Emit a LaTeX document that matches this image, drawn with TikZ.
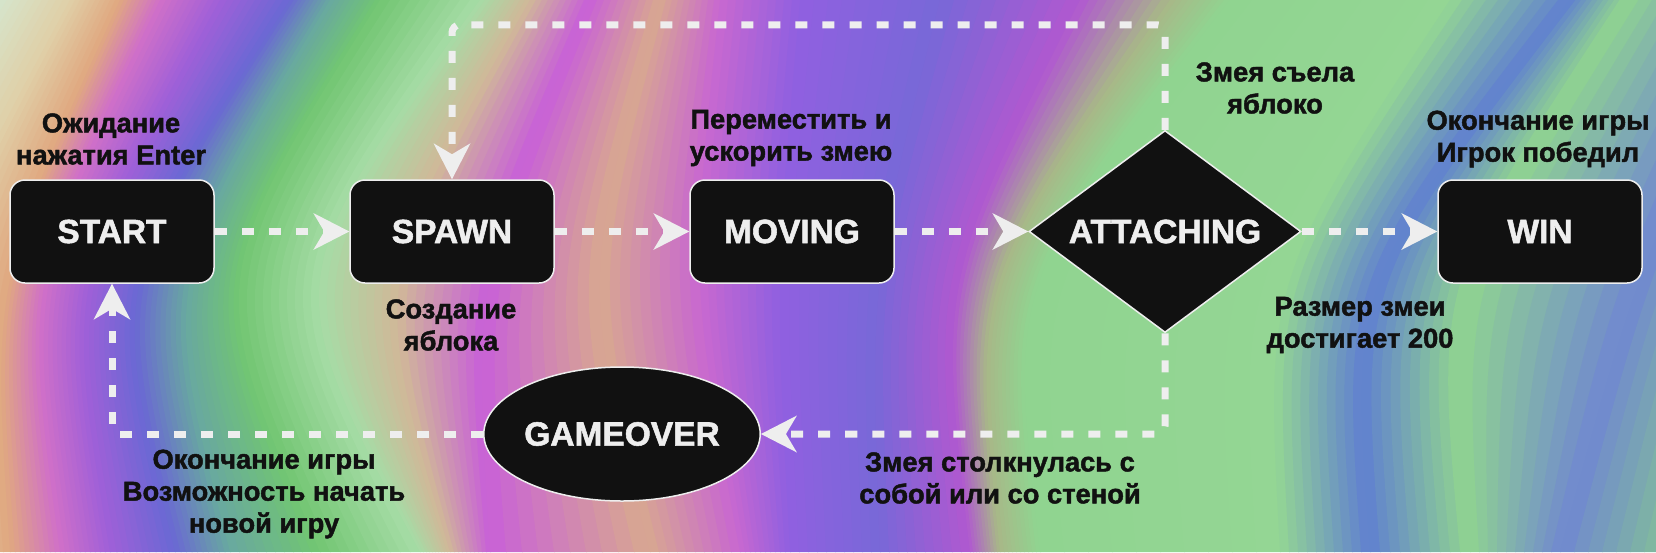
\documentclass[tikz,border=0pt]{standalone}
\usepackage{fontspec}
\setmainfont{Liberation Sans}[BoldFeatures={FakeBold=1.6}]
\usetikzlibrary{shapes.geometric,arrows.meta}

\definecolor{nodebg}{HTML}{111111}
\definecolor{nodetxt}{HTML}{EEEEEE}
\definecolor{flowclr}{HTML}{EEEEEE}
\definecolor{lbltxt}{HTML}{111111}
% background streak colours
\definecolor{bgA}{HTML}{D5E5CC}
\definecolor{bgB}{HTML}{E0D0A8}
\definecolor{bgC}{HTML}{E0A880}
\definecolor{bgD}{HTML}{D070C8}
\definecolor{bgE}{HTML}{A060D8}
\definecolor{bgF}{HTML}{6A68D4}
\definecolor{bgG}{HTML}{68A8A0}
\definecolor{bgH}{HTML}{72C672}
\definecolor{bgI}{HTML}{A6DCA6}
\definecolor{bgJ}{HTML}{D0B898}
\definecolor{bgK}{HTML}{C860D8}
\definecolor{bgL}{HTML}{D8A890}
\definecolor{bgM}{HTML}{C868D0}
\definecolor{bgN}{HTML}{9060E0}
\definecolor{bgO}{HTML}{7868D8}
\definecolor{bgP}{HTML}{B058D0}
\definecolor{bgQ}{HTML}{A8B888}
\definecolor{bgR}{HTML}{90D490}
\definecolor{bgS}{HTML}{94D694}
\definecolor{bgT}{HTML}{6080D0}
\definecolor{bgU}{HTML}{7088D0}
\definecolor{bgV}{HTML}{88D088}

\tikzset{
  statenode/.style={draw=nodetxt, line width=1.5pt, fill=nodebg, text=nodetxt,
    font=\fontsize{33.5}{40}\selectfont\bfseries},
  statebox/.style={statenode, rectangle, rounded corners=15pt,
    minimum width=204pt, minimum height=103pt},
  decision/.style={statenode, diamond, aspect=1.35, inner sep=0pt,
    minimum width=272pt, minimum height=202pt},
  terminal/.style={statenode, ellipse, inner sep=0pt,
    minimum width=272pt, minimum height=134pt},
  lbl/.style={align=center, text=lbltxt, font=\fontsize{27.3}{32}\selectfont\bfseries},
  flow/.style={draw=flowclr, line width=7pt, dash pattern=on 12pt off 15pt,
    -{Stealth[length=36pt,width=37pt,inset=11pt,line width=0pt]}},
}

\begin{document}
\begin{tikzpicture}[x=1pt, y=-1pt]
  \useasboundingbox (0,0) rectangle (1656,552);

  % background: streaks given by their x at top / middle / bottom
  \begin{scope}
    \clip (0,0) rectangle (1656,552);
    \foreach \xt/\xm/\xb/\clr [remember=\xt as \xtp (initially 0), remember=\xm as \xmp (initially -150),
        remember=\xb as \xbp (initially -150), remember=\clr as \clrp (initially bgA)] in
      {0/-150/-150/bgA, 70/-60/-60/bgB, 120/10/10/bgC, 160/45/60/bgD, 220/90/110/bgE,
       290/140/175/bgF, 330/190/230/bgG, 380/240/320/bgH, 480/320/420/bgI, 530/400/450/bgJ,
       590/490/490/bgK, 660/600/650/bgL, 720/700/740/bgM, 800/780/790/bgN, 940/880/880/bgO,
       1080/960/970/bgP, 1170/1000/1000/bgQ, 1230/1040/1040/bgR, 1450/1290/1280/bgS,
       1570/1380/1370/bgT, 1625/1470/1470/bgR, 1760/1640/1560/bgU, 1850/1760/1700/bgV}{
      \foreach \s in {0,...,9}{
        \pgfmathsetmacro\xtl{\xtp+(\xt-\xtp)*\s/10}
        \pgfmathsetmacro\xml{\xmp+(\xm-\xmp)*\s/10}
        \pgfmathsetmacro\xbl{\xbp+(\xb-\xbp)*\s/10}
        \pgfmathsetmacro\xtr{\xtp+(\xt-\xtp)*(\s+1)/10+1}
        \pgfmathsetmacro\xmr{\xmp+(\xm-\xmp)*(\s+1)/10+1}
        \pgfmathsetmacro\xbr{\xbp+(\xb-\xbp)*(\s+1)/10+1}
        \pgfmathsetmacro\xcl{(8*\xml-\xtl-\xbl)/6}
        \pgfmathsetmacro\xcr{(8*\xmr-\xtr-\xbr)/6}
        \pgfmathtruncatemacro\p{\s*10+5}
        \fill[\clr!\p!\clrp] (\xtl,0) .. controls (\xcl,281.3) .. (\xbl,552)
          -- (\xbr,552) .. controls (\xcr,281.3) .. (\xtr,0) -- cycle;
      }
    }
  \end{scope}

  % states
  \node[statebox] (start) at (112,231.5) {START};
  \node[statebox] (spawn) at (452,231.5) {SPAWN};
  \node[statebox] (moving) at (792,231.5) {MOVING};
  \node[decision] (attach) at (1165,231.5) {ATTACHING};
  \node[statebox] (win) at (1540,231.5) {WIN};
  \node[terminal] (gameover) at (622,434) {GAMEOVER};

  % labels
  \node[lbl] (lblwait) at (111,139) {Ожидание\\нажатия Enter};
  \node[lbl] (lblapple) at (451,325) {Создание\\яблока};
  \node[lbl] (lblmove) at (791,138) {Переместить и\\ускорить змею};
  \node[lbl] (lblate) at (1275,88) {Змея съела\\яблоко};
  \node[lbl] (lblwinmsg) at (1538,139) {Окончание игры\\Игрок победил};
  \node[lbl] (lblsize) at (1360,325) {Размер змеи\\достигает 200};
  \node[lbl] (lblcrash) at (1000,478) {Змея столкнулась с\\собой или со стеной};
  \node[lbl] (lblover) at (264,494) {Окончание игры\\Возможность начать\\новой игру};

  % transitions
  \draw[flow] (start) -- (spawn);
  \draw[flow] (spawn) -- (moving);
  \draw[flow] (moving) -- (attach);
  \draw[flow] (attach) -- (win);
  \draw[flow, rounded corners=8pt] (attach.north) -- ++(0,-105) -| (spawn.north);
  \draw[flow, rounded corners=8pt] (attach.south) |- (gameover.east);
  \draw[flow, rounded corners=8pt] (gameover.west) -| (start.south);
\end{tikzpicture}
\end{document}
